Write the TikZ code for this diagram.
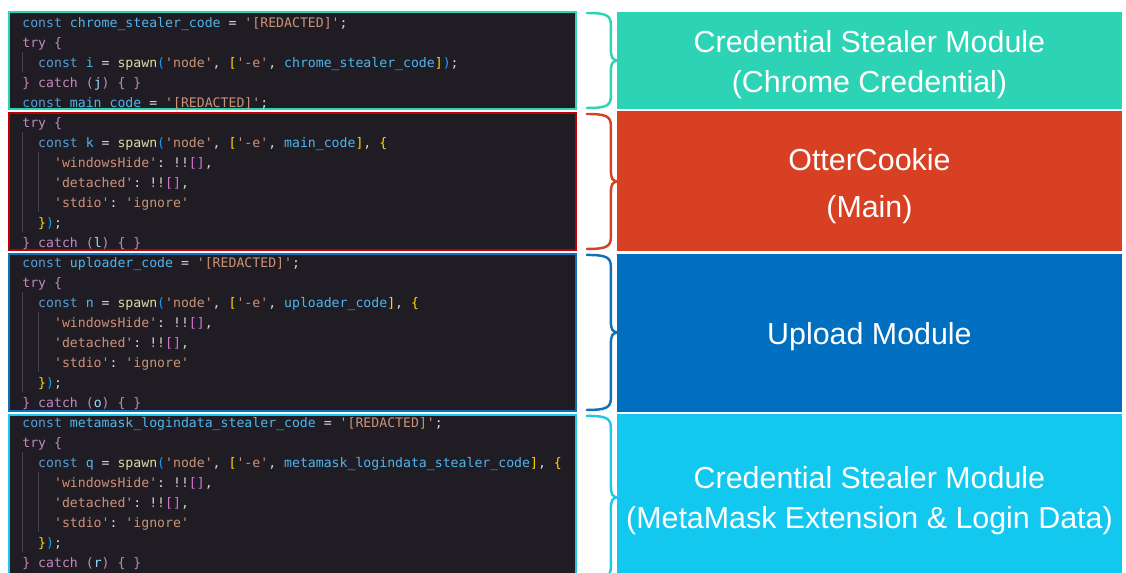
\documentclass[tikz,border=0pt]{standalone}
\usepackage{fontspec}
\setmonofont{DejaVu Sans Mono}
\newfontfamily\labelfont{Liberation Sans}
\usepackage{tikz}
\usetikzlibrary{calc, positioning}

\definecolor{codebg}{HTML}{1F1D23}
\definecolor{plaintxt}{HTML}{D4D4D4}
\definecolor{guidegray}{HTML}{45434A}
\definecolor{kwblue}{HTML}{569CD6}
\definecolor{varblue}{HTML}{4FB4EE}
\definecolor{locblue}{HTML}{9CDCFE}
\definecolor{trypurple}{HTML}{C586C0}
\definecolor{strbrown}{HTML}{CE9178}
\definecolor{funyellow}{HTML}{DCDCAA}
\definecolor{brgold}{HTML}{FFD700}
\definecolor{brorchid}{HTML}{DA70D6}
\definecolor{brsky}{HTML}{179FFF}
% borders of the code parts
\definecolor{tealline}{HTML}{2DD4B4}
\definecolor{redline}{HTML}{C00000}
\definecolor{blueline}{HTML}{1070B8}
\definecolor{cyanline}{HTML}{1EC8E8}
% module boxes
\definecolor{tealfill}{HTML}{2DD3B5}
\definecolor{redfill}{HTML}{D84024}
\definecolor{bluefill}{HTML}{006FBF}
\definecolor{cyanfill}{HTML}{12C8EF}

\newcommand\cKw[1]{\textcolor{kwblue}{#1}}
\newcommand\cVar[1]{\textcolor{varblue}{#1}}
\newcommand\cLoc[1]{\textcolor{locblue}{#1}}
\newcommand\cTry[1]{\textcolor{trypurple}{#1}}
\newcommand\cStr[1]{\textcolor{strbrown}{#1}}
\newcommand\cFun[1]{\textcolor{funyellow}{#1}}
\newcommand\cGold[1]{\textcolor{brgold}{#1}}
\newcommand\cOrch[1]{\textcolor{brorchid}{#1}}
\newcommand\cSky[1]{\textcolor{brsky}{#1}}

% curly brace from a code part (#1) to its module box (#2)
\newcommand\modbrace[3]{%
  \draw[bracepen, #3] let \p1=(#1.north east), \p2=(#1.south east), \p3=(#1.east), \p4=(#2.west) in
    (\x1+0.22cm,\y1-0.02cm) .. controls (\x1+0.6cm,\y1-0.02cm) and (\x1+0.7cm,\y1-0.06cm) .. (\x1+0.7cm,\y1-0.26cm)
    -- (\x1+0.7cm,\y3+0.24cm) .. controls (\x1+0.7cm,\y3+0.06cm) and (\x4-0.1cm,\y3) .. (\x4+0.04cm,\y3)
    .. controls (\x4-0.1cm,\y3) and (\x1+0.7cm,\y3-0.06cm) .. (\x1+0.7cm,\y3-0.24cm)
    -- (\x1+0.7cm,\y2+0.26cm) .. controls (\x1+0.7cm,\y2+0.06cm) and (\x1+0.6cm,\y2+0.02cm) .. (\x1+0.22cm,\y2+0.02cm);}

\begin{document}
\begin{tikzpicture}[x=0.02cm, y=-0.02cm,
    codebox/.style={draw=#1, line width=1.2pt, fill=codebg, minimum width=11.34cm, outer sep=0pt, inner sep=0pt},
    labbox/.style={fill=#1, minimum width=10.1cm, outer sep=0pt, inner sep=0pt},
    labtext/.style={text=white, align=center, inner sep=0pt, font=\labelfont\fontsize{17.3}{22.7}\selectfont},
    codeline/.style={anchor=base west, inner sep=0pt, text=plaintxt, font=\ttfamily\fontsize{7.5}{9}\selectfont},
    guide/.style={draw=guidegray, line width=0.5pt},
    bracepen/.style={line width=1.4pt, line cap=round}]
    \useasboundingbox (0,0) rectangle (1126,572);
    \clip (0,0) rectangle (1126,572);

    % code parts on the left
    \node[codebox=tealline, minimum height=1.94cm, anchor=north west] (code1) at (9,12) {};
    \node[codebox=redline, minimum height=2.74cm, below=0.08cm of code1] (code2) {};
    \node[codebox=blueline, minimum height=3.14cm, below=0.08cm of code2] (code3) {};
    \node[codebox=cyanline, minimum height=3.3cm, below=0.08cm of code3] (code4) {};

    % modules on the right
    \node[labbox=tealfill, minimum height=1.94cm, anchor=north west] (lab1) at (617,12) {};
    \node[labbox=redfill, minimum height=2.8cm, below=0.05cm of lab1] (lab2) {};
    \node[labbox=bluefill, minimum height=3.16cm, below=0.05cm of lab2] (lab3) {};
    \node[labbox=cyanfill, minimum height=3.3cm, below=0.05cm of lab3] (lab4) {};
    \node[labtext] (name1) at ([yshift=-0.09cm]lab1.center) {Credential Stealer Module\\(Chrome Credential)};
    \node[labtext] (name2) at ([yshift=-0.1cm]lab2.center) {OtterCookie\\[4pt](Main)};
    \node[labtext] (name3) at ([yshift=-0.08cm]lab3.center) {Upload Module};
    \node[labtext] (name4) at ([yshift=-0.08cm]lab4.center) {Credential Stealer Module\\(MetaMask Extension \& Login Data)};

    % indent guides
    \foreach \gx/\ga/\gb in {22.5/52/72, 22.5/132/232, 38.5/152/212, 22.5/292/392, 38.5/312/372, 22.5/452/552, 38.5/472/532}
      \draw[guide] (\gx,\ga) -- (\gx,\gb);

    % the source, one line per node
    \foreach \ind/\txt [count=\k from 0] in {
      0/{\cKw{const} \cVar{chrome\_stealer\_code} = \cStr{'[REDACTED]'};},
      0/{\cTry{try \{}},
      2/{\cKw{const} \cVar{i} = \cFun{spawn}\cSky{(}\cStr{'node'}, \cGold{[}\cStr{'-e'}, \cVar{chrome\_stealer\_code}\cGold{]}\cSky{)};},
      0/{\cTry{\} catch (}\cLoc{j}\cTry{) \{ \}}},
      0/{\cKw{const} \cVar{main\_code} = \cStr{'[REDACTED]'};},
      0/{\cTry{try \{}},
      2/{\cKw{const} \cVar{k} = \cFun{spawn}\cSky{(}\cStr{'node'}, \cGold{[}\cStr{'-e'}, \cVar{main\_code}\cGold{]}, \cGold{\{}},
      4/{\cStr{'windowsHide'}: !!\cOrch{[]},},
      4/{\cStr{'detached'}: !!\cOrch{[]},},
      4/{\cStr{'stdio'}: \cStr{'ignore'}},
      2/{\cGold{\}}\cSky{)};},
      0/{\cTry{\} catch (}\cLoc{l}\cTry{) \{ \}}},
      0/{\cKw{const} \cVar{uploader\_code} = \cStr{'[REDACTED]'};},
      0/{\cTry{try \{}},
      2/{\cKw{const} \cVar{n} = \cFun{spawn}\cSky{(}\cStr{'node'}, \cGold{[}\cStr{'-e'}, \cVar{uploader\_code}\cGold{]}, \cGold{\{}},
      4/{\cStr{'windowsHide'}: !!\cOrch{[]},},
      4/{\cStr{'detached'}: !!\cOrch{[]},},
      4/{\cStr{'stdio'}: \cStr{'ignore'}},
      2/{\cGold{\}}\cSky{)};},
      0/{\cTry{\} catch (}\cLoc{o}\cTry{) \{ \}}},
      0/{\cKw{const} \cVar{metamask\_logindata\_stealer\_code} = \cStr{'[REDACTED]'};},
      0/{\cTry{try \{}},
      2/{\cKw{const} \cVar{q} = \cFun{spawn}\cSky{(}\cStr{'node'}, \cGold{[}\cStr{'-e'}, \cVar{metamask\_logindata\_stealer\_code}\cGold{]}, \cGold{\{}},
      4/{\cStr{'windowsHide'}: !!\cOrch{[]},},
      4/{\cStr{'detached'}: !!\cOrch{[]},},
      4/{\cStr{'stdio'}: \cStr{'ignore'}},
      2/{\cGold{\}}\cSky{)};},
      0/{\cTry{\} catch (}\cLoc{r}\cTry{) \{ \}}}}
      \node[codeline] (ln\k) at (22+7.93*\ind, 27+20*\k) {\txt};

    % braces between the parts and the modules
    \modbrace{code1}{lab1}{tealline}
    \modbrace{code2}{lab2}{redfill}
    \modbrace{code3}{lab3}{blueline}
    \modbrace{code4}{lab4}{cyanline}
\end{tikzpicture}
\end{document}
